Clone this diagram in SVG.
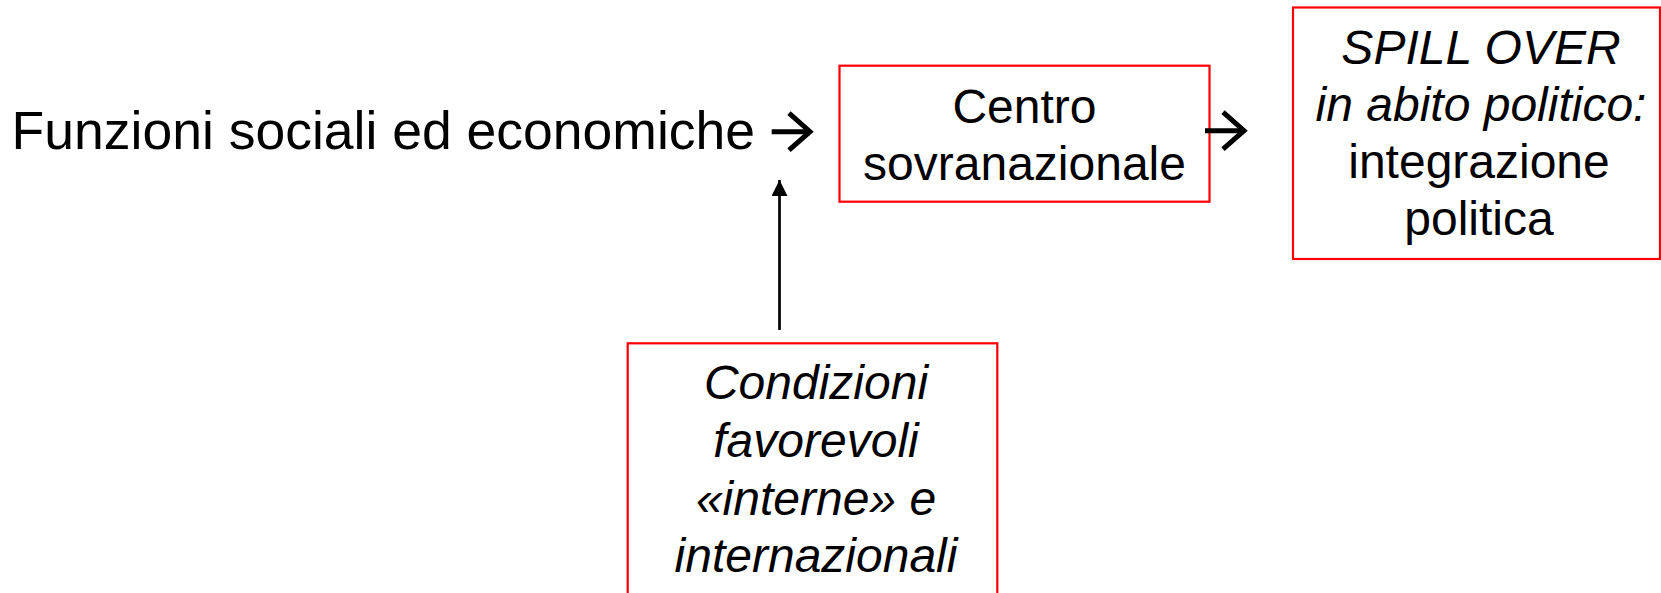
<svg xmlns="http://www.w3.org/2000/svg" width="1661" height="593" viewBox="0 0 1661 593">
  <style>
    .t { font-family: "Liberation Sans", Arial, sans-serif; fill: #000; }
    .big { font-size: 53.5px; }
    .box-t { font-size: 48px; text-anchor: middle; }
    .it { font-style: italic; }
    .box { fill: #fff; stroke: #ff0000; stroke-width: 2.2; }
    .conn { stroke: #000; fill: none; }
    .thick { stroke-width: 5; }
    .thin { stroke-width: 2.7; }
  </style>
  <defs>
    <marker id="chev" markerUnits="userSpaceOnUse" viewBox="0 0 32 40" refX="27" refY="20" markerWidth="32" markerHeight="40" orient="auto" overflow="visible">
      <path d="M6,1.5 L27,20 L6,38.5" fill="none" stroke="#000" stroke-width="5"/>
    </marker>
    <marker id="tri" markerUnits="userSpaceOnUse" viewBox="0 0 16 16" refX="16" refY="8" markerWidth="16" markerHeight="16" orient="auto">
      <path d="M0,0 L16,8 L0,16 z" fill="#000"/>
    </marker>
  </defs>

  <g id="node-funzioni">
    <text class="t big" x="11.6" y="149.3">Funzioni sociali ed economiche</text>
  </g>

  <g id="node-centro">
    <rect class="box" x="839.5" y="65.7" width="370" height="136"/>
    <text class="t box-t" x="1024.5" y="123.3">Centro</text>
    <text class="t box-t" x="1024.5" y="180">sovranazionale</text>
  </g>

  <g id="node-spillover">
    <rect class="box" x="1293" y="7.5" width="367" height="251.5"/>
    <text class="t box-t it" x="1481" y="64">SPILL OVER</text>
    <text class="t box-t it" x="1481" y="121">in abito politico:</text>
    <text class="t box-t" x="1479" y="178">integrazione</text>
    <text class="t box-t" x="1479" y="235">politica</text>
  </g>

  <g id="node-condizioni">
    <rect class="box" x="627.7" y="343.3" width="369.6" height="270"/>
    <text class="t box-t it" x="816" y="399.3">Condizioni</text>
    <text class="t box-t it" x="816" y="456.7">favorevoli</text>
    <text class="t box-t it" x="816" y="515">«interne» e</text>
    <text class="t box-t it" x="816" y="571.7">internazionali</text>
  </g>

  <g id="connectors">
    <line class="conn thick" x1="771.7" y1="131.7" x2="810" y2="131.7" marker-end="url(#chev)"/>
    <line class="conn thick" x1="1205" y1="130.7" x2="1244" y2="130.7" marker-end="url(#chev)"/>
    <line class="conn thin" x1="779.5" y1="330" x2="779.5" y2="180" marker-end="url(#tri)"/>
  </g>
</svg>
